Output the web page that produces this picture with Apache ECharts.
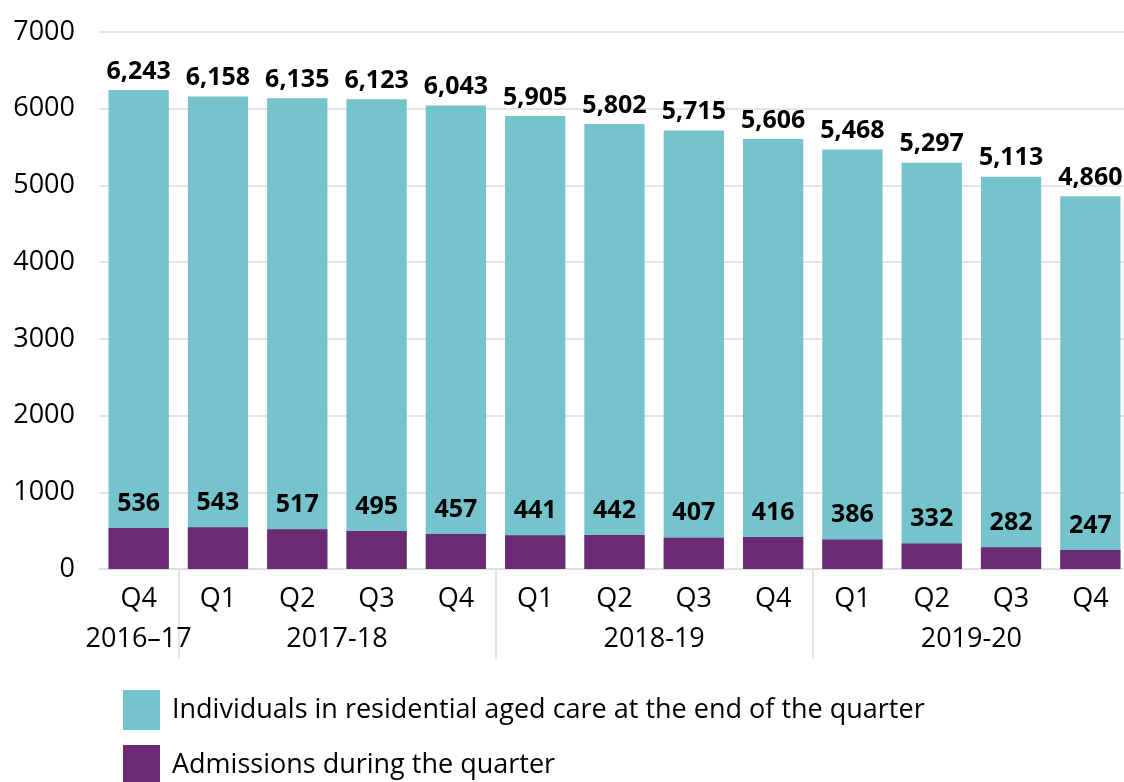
<!DOCTYPE html>
<html>
<head>
<meta charset="utf-8">
<script src="https://cdn.jsdelivr.net/npm/echarts@6/dist/echarts.min.js"></script>
<style>
  html, body { margin: 0; padding: 0; background: #fff; overflow: hidden; }
  #chart { width: 1130px; height: 782px; }
</style>
</head>
<body>
<div id="chart"></div>
<script>
// quarter labels (first row of the x axis)
const quarters = ["Q4", "Q1", "Q2", "Q3", "Q4", "Q1", "Q2", "Q3", "Q4", "Q1", "Q2", "Q3", "Q4"];
// individuals in residential aged care at the end of the quarter
const individuals = [6243, 6158, 6135, 6123, 6043, 5905, 5802, 5715, 5606, 5468, 5297, 5113, 4860];
// admissions during the quarter
const admissions = [536, 543, 517, 495, 457, 441, 442, 407, 416, 386, 332, 282, 247];
// financial year groups (second row of the x axis)
const years = ["2016–17", "2017-18", "2018-19", "2019-20"];
const yearStart = [0, 1, 5, 9];
const yearEnd = [0, 4, 8, 12];

const yearCenters = years.map((y, i) => (yearStart[i] + yearEnd[i]) / 2);
const yearSeparators = yearStart.slice(1).map((s) => s - 0.5);

const FONT = "Open Sans";
const TEAL = "#75c3cc";
const PURPLE = "#6b2a73";
const GRID = "#dddddd";

const NAME_IND = "Individuals in residential aged care at the end of the quarter";
const NAME_ADM = "Admissions during the quarter";

const chart = echarts.init(document.getElementById("chart"));

function legendAt(top, name) {
  return {
    orient: "vertical",
    left: 123,
    top: top,
    padding: 0,
    itemWidth: 37,
    itemHeight: 40,
    icon: "rect",
    selectedMode: false,
    textStyle: {
      fontFamily: FONT,
      fontSize: 27,
      color: "#000",
      padding: [0, 0, 0, 7],
    },
    data: [name],
  };
}

const option = {
  animation: false,
  textStyle: { fontFamily: FONT },
  grid: {
    left: 99,
    right: 0,
    top: 32,
    bottom: 213,
  },
  legend: [legendAt(690, NAME_IND), legendAt(745, NAME_ADM)],
  xAxis: [
    {
      type: "category",
      data: quarters,
      axisLine: { lineStyle: { color: GRID, width: 1.5 } },
      axisTick: { show: false },
      axisLabel: {
        fontFamily: FONT,
        fontSize: 27,
        color: "#000",
        margin: 17,
      },
    },
    {
      // year groups, drawn as a second row with separators
      type: "value",
      position: "bottom",
      min: -0.5,
      max: quarters.length - 0.5,
      axisLine: { show: false },
      splitLine: { show: false },
      axisTick: {
        show: true,
        customValues: yearSeparators,
        length: 90,
        lineStyle: { color: GRID, width: 1.5 },
      },
      axisLabel: {
        customValues: yearCenters,
        fontFamily: FONT,
        fontSize: 27,
        color: "#000",
        margin: 57,
        formatter: function (v) {
          const idx = yearCenters.findIndex((c) => Math.abs(c - v) < 1e-6);
          return idx >= 0 ? years[idx] : "";
        },
      },
    },
  ],
  yAxis: {
    type: "value",
    min: 0,
    max: 7000,
    interval: 1000,
    axisLine: { show: false },
    axisTick: { show: false },
    axisLabel: {
      fontFamily: FONT,
      fontSize: 27,
      color: "#000",
      margin: 24,
      formatter: function (v) {
        return String(v);
      },
    },
    splitLine: { lineStyle: { color: GRID, width: 1.5 } },
  },
  series: [
    {
      name: NAME_IND,
      type: "bar",
      xAxisIndex: 0,
      data: individuals,
      barCategoryGap: "24%",
      barGap: "-100%",
      itemStyle: { color: TEAL },
      label: {
        show: true,
        position: "top",
        distance: 6,
        fontFamily: FONT,
        fontSize: 25,
        fontWeight: "bold",
        color: "#000",
        formatter: function (p) {
          return p.value.toLocaleString("en-US");
        },
      },
    },
    {
      name: NAME_ADM,
      type: "bar",
      xAxisIndex: 0,
      data: admissions,
      barCategoryGap: "24%",
      barGap: "-100%",
      itemStyle: { color: PURPLE },
      label: {
        show: true,
        position: "top",
        distance: 12,
        fontFamily: FONT,
        fontSize: 25,
        fontWeight: "bold",
        color: "#000",
      },
    },
  ],
};

chart.setOption(option);
</script>
</body>
</html>
